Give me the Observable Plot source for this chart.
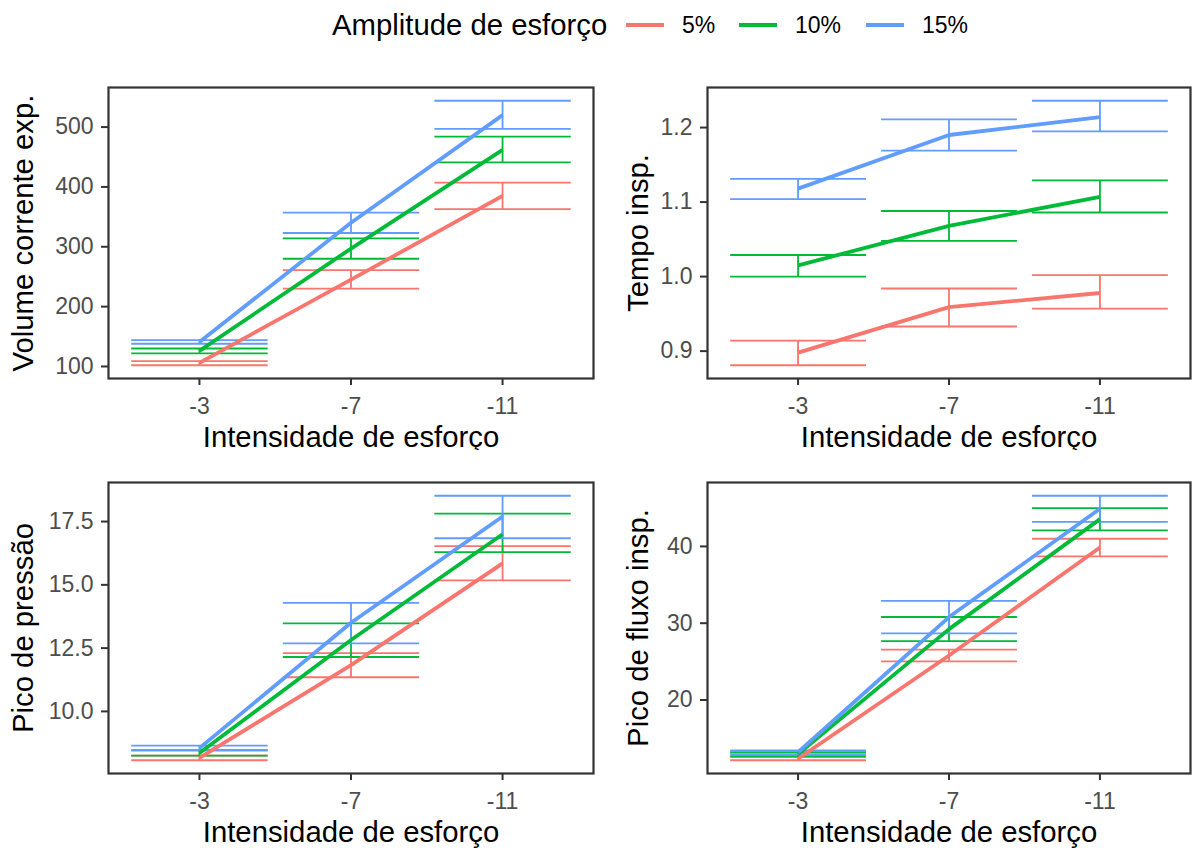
<!DOCTYPE html>
<html><head><meta charset="utf-8">
<script src="https://cdn.jsdelivr.net/npm/d3@7"></script>
<script src="https://cdn.jsdelivr.net/npm/@observablehq/plot@0.6"></script>
<style>
body{margin:0;background:#fff;}
#root{position:relative;width:1194px;height:851px;overflow:hidden;font-family:"Liberation Sans",Arial,sans-serif;}
.cell{position:absolute;}
</style></head><body><div id="root"></div>
<script>
// ---- data ----
const intensities = ["-3", "-7", "-11"];
const amplitudes = ["5%", "10%", "15%"];
const colors = ["#F8766D", "#00BA38", "#619CFF"];
const xTitle = "Intensidade de esforço";
const legendTitle = "Amplitude de esforço";

// rows: 5%, 10%, 15% ; columns: -3, -7, -11
const volumeMean = [[106, 245, 385], [126, 297, 462], [141, 340, 520]];
const volumeLow  = [[102, 230, 363], [122, 280, 441], [138, 323, 497]];
const volumeHigh = [[109, 261, 407], [130, 314, 484], [144, 357, 544]];
const volumeTicks = [100, 200, 300, 400, 500];

const tempoMean = [[0.898, 0.959, 0.978], [1.015, 1.068, 1.107], [1.118, 1.190, 1.214]];
const tempoLow  = [[0.881, 0.933, 0.957], [1.000, 1.048, 1.086], [1.104, 1.169, 1.195]];
const tempoHigh = [[0.914, 0.984, 1.002], [1.029, 1.088, 1.129], [1.131, 1.211, 1.236]];
const tempoTicks = [0.9, 1.0, 1.1, 1.2];

const pressaoMean = [[8.16, 11.83, 15.85], [8.36, 12.82, 17.00], [8.55, 13.50, 17.70]];
const pressaoLow  = [[8.07, 11.35, 15.18], [8.25, 12.15, 16.29], [8.45, 12.69, 16.84]];
const pressaoHigh = [[8.25, 12.30, 16.53], [8.47, 13.48, 17.81], [8.65, 14.29, 18.52]];
const pressaoTicks = [10, 12.5, 15, 17.5];

const fluxoMean = [[12.35, 25.80, 39.85], [12.95, 29.23, 43.55], [13.20, 30.80, 44.90]];
const fluxoLow  = [[12.15, 25.03, 38.69], [12.70, 27.66, 42.10], [12.95, 28.67, 43.19]];
const fluxoHigh = [[12.55, 26.56, 41.00], [13.20, 30.81, 44.99], [13.45, 32.91, 46.60]];
const fluxoTicks = [20, 30, 40];

// ---- drawing ----
const FONT = "Liberation Sans, Arial, sans-serif";
const root = document.getElementById("root");
const capHalf = 0.45;

function panel(cfg) {
  const rows = amplitudes.flatMap((a, ai) => intensities.map((lab, i) => ({
    amp: a, x: i + 1, mean: cfg.mean[ai][i], low: cfg.low[ai][i], high: cfg.high[ai][i]
  })));
  const errPts = rows.flatMap(r => [
    [r.x - capHalf, r.high], [r.x + capHalf, r.high], [r.x, r.high],
    [r.x, r.low], [r.x - capHalf, r.low], [r.x + capHalf, r.low]
  ].map(([x, y]) => ({x, y, amp: r.amp, key: r.amp + "|" + r.x})));
  const lo = d3.min(rows, d => d.low), hi = d3.max(rows, d => d.high);
  const pad = (hi - lo) * 0.05;
  const chart = Plot.plot({
    width: 597, height: cfg.height,
    marginLeft: cfg.marginLeft, marginRight: 4, marginTop: cfg.marginTop, marginBottom: cfg.marginBottom,
    style: {fontFamily: FONT, background: "white", overflow: "visible"},
    x: {domain: [0.4, 3.6]},
    y: {domain: [lo - pad, hi + pad]},
    color: {domain: amplitudes, range: colors},
    marks: [
      Plot.line(errPts, {x: "x", y: "y", z: "key", stroke: "amp", strokeWidth: 1.8, strokeLinecap: "butt", strokeLinejoin: "bevel"}),
      Plot.line(rows, {x: "x", y: "mean", z: "amp", stroke: "amp", strokeWidth: 3.8, strokeLinecap: "butt"}),
      Plot.axisX({ticks: [1, 2, 3], tickFormat: d => intensities[d - 1], tickSize: 7, tickPadding: 12,
        fontSize: 23, stroke: "#333", strokeWidth: 2, fill: "#4D4D4D", label: null}),
      Plot.axisY({ticks: cfg.ticks, tickFormat: cfg.format, tickSize: 7, tickPadding: 8,
        fontSize: 23, stroke: "#333", strokeWidth: 2, fill: "#4D4D4D", label: null}),
      Plot.text([xTitle], {text: d => d, frameAnchor: "bottom", dy: 59, fontSize: 29.3, fill: "black",
        textAnchor: "middle", lineAnchor: "middle"}),
      Plot.text([cfg.title], {text: d => d, frameAnchor: "left", dx: cfg.titleDx, rotate: -90, fontSize: 29.3,
        fill: "black", textAnchor: "middle", lineAnchor: "middle"}),
      Plot.frame({stroke: "#333", strokeWidth: 2.2})
    ]
  });
  chart.classList.add("cell");
  chart.style.left = cfg.left + "px";
  chart.style.top = cfg.top + "px";
  root.appendChild(chart);
}

const topRow = {top: 50, height: 400, marginTop: 37, marginBottom: 72};
const botRow = {top: 450, height: 401, marginTop: 32, marginBottom: 78};
const leftCol = {left: 0, marginLeft: 108, titleDx: -84.4};
const rightCol = {left: 597, marginLeft: 110, titleDx: -68.4};

panel({...topRow, ...leftCol, mean: volumeMean, low: volumeLow, high: volumeHigh, ticks: volumeTicks,
  format: d3.format("d"), title: "Volume corrente exp."});
panel({...topRow, ...rightCol, mean: tempoMean, low: tempoLow, high: tempoHigh, ticks: tempoTicks,
  format: d3.format(".1f"), title: "Tempo insp."});
panel({...botRow, ...leftCol, mean: pressaoMean, low: pressaoLow, high: pressaoHigh, ticks: pressaoTicks,
  format: d3.format(".1f"), title: "Pico de pressão"});
panel({...botRow, ...rightCol, mean: fluxoMean, low: fluxoLow, high: fluxoHigh, ticks: fluxoTicks,
  format: d3.format("d"), title: "Pico de fluxo insp."});

// ---- legend ----
const legend = d3.select(root).append("svg").attr("class", "cell")
  .style("left", "0px").style("top", "0px").attr("width", 1194).attr("height", 50)
  .style("font-family", FONT);
legend.append("text").attr("x", 332).attr("y", 25).attr("dy", "0.35em")
  .attr("font-size", 29.3).attr("fill", "black").text(legendTitle);
const keyX = [626, 739, 866];
amplitudes.forEach((a, i) => {
  legend.append("line").attr("x1", keyX[i]).attr("x2", keyX[i] + 38).attr("y1", 25).attr("y2", 25)
    .attr("stroke", colors[i]).attr("stroke-width", 3.8);
  legend.append("text").attr("x", keyX[i] + 56).attr("y", 25).attr("dy", "0.35em")
    .attr("font-size", 23).attr("fill", "black").text(a);
});
</script>
</body></html>
